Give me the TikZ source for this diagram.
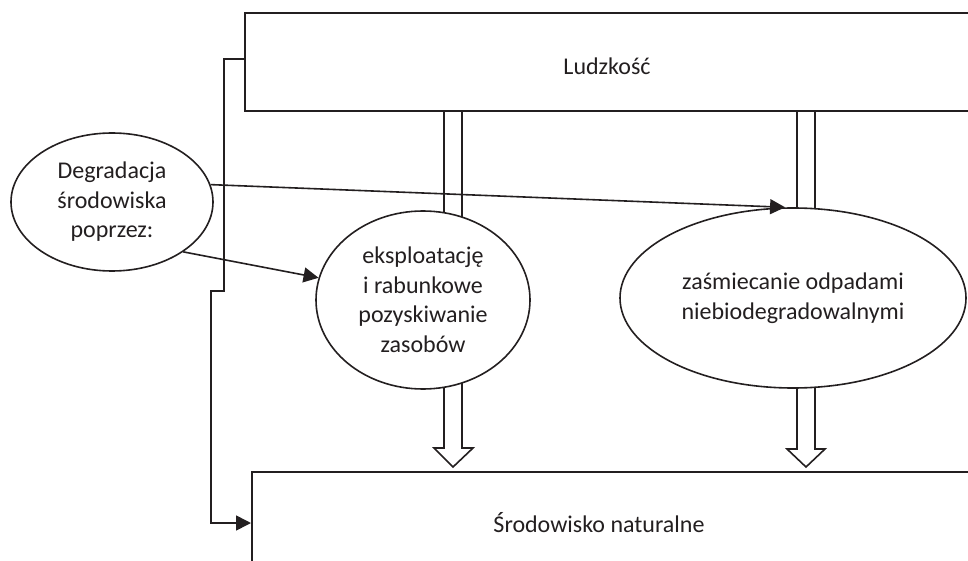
\documentclass[tikz,border=0pt]{standalone}
\usepackage{fontspec}
\setmainfont{Carlito}
\usetikzlibrary{shapes.geometric,arrows.meta}
\definecolor{ink}{HTML}{231F20}
\begin{document}
\begin{tikzpicture}[x=1pt,y=-1pt,
  line/.style={draw=ink,line width=1.6pt},
  box/.style={line,rectangle,inner sep=0pt,fill=white},
  lbl/.style={font=\fontsize{24}{29.5}\selectfont,text=ink,align=center},
  oval/.style={line,ellipse,inner sep=0pt,fill=white,lbl},
  tip/.style={-{Triangle[length=15pt,width=15pt]}},
  hollow/.style={line,fill=white,line join=miter}]
\useasboundingbox (0,0) rectangle (968,561);
\clip (0,0) rectangle (968,561);

% the two boxes, running past the right and bottom edges
\node[box,minimum width=725pt,minimum height=98pt] (top) at (607.5,62) {};
\node[lbl] (ludz) at (607,66) {Ludzkość};
\node[box,minimum width=730pt,minimum height=140pt,anchor=north west] (env) at (251,471) {};
\node[lbl] (envtxt) at (599,523) {Środowisko naturalne};

% hollow shafts from the upper box into the ovals
\draw[line] (444,111) -- (444,240);
\draw[line] (462,111) -- (462,240);
\draw[line] (797,111) -- (797,240);
\draw[line] (815,111) -- (815,240);

% hollow block arrows from the ovals down to the lower box
\draw[hollow] (444,350) -- (444,448) -- (434,448) -- (453,467) -- (473,448) -- (462,448) -- (462,350);
\draw[hollow] (797,350) -- (797,449) -- (787,449) -- (806,467) -- (825,449) -- (815,449) -- (815,350);

% ovals
\node[oval,minimum width=214pt,minimum height=178pt] (ell1) at (423,300)
  {eksploatację\\ i rabunkowe\\pozyskiwanie\\zasobów};
\node[oval,minimum width=346pt,minimum height=180pt] (ell2) at (793,298)
  {zaśmiecanie odpadami\\niebiodegradowalnymi};
\node[oval,minimum width=202pt,minimum height=138pt] (deg) at (112,202)
  {Degradacja\\środowiska\\poprzez:};

% connectors
\draw[line,tip] (deg.10) -- (ell2.95);
\draw[line,tip] (deg.-35) -- (ell1.168);
\draw[line,tip] ([yshift=3pt]top.west) -- ++(-20,0) -- ++(0,232) -- ++(-13,0)
  |- (envtxt -| env.west);
\end{tikzpicture}
\end{document}
